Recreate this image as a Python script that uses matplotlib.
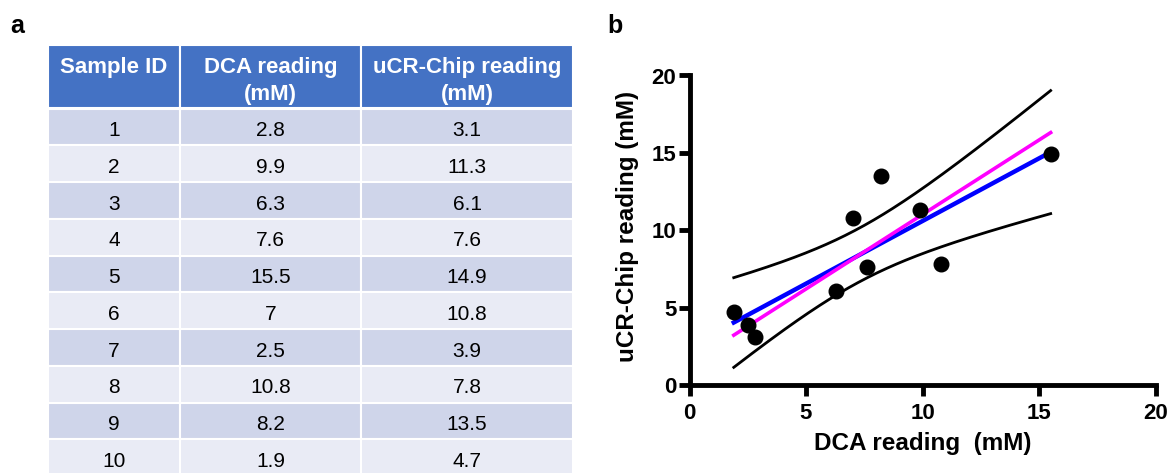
import numpy as np
import matplotlib.pyplot as plt
from matplotlib.patches import Rectangle

plt.rcParams['font.family'] = ['Liberation Sans', 'DejaVu Sans']

# table data
sample_id = [1, 2, 3, 4, 5, 6, 7, 8, 9, 10]
dca = [2.8, 9.9, 6.3, 7.6, 15.5, 7, 2.5, 10.8, 8.2, 1.9]
ucr = [3.1, 11.3, 6.1, 7.6, 14.9, 10.8, 3.9, 7.8, 13.5, 4.7]
headers = [["Sample ID"], ["DCA reading", "(mM)"], ["uCR-Chip reading", "(mM)"]]

head_col = '#4472C4'
row_cols = ['#CFD5EA', '#E9EBF5']

fig = plt.figure(figsize=(11.71, 4.73), dpi=100)

# ---- panel a: table drawn in pixel coords
tab = fig.add_axes([0, 0, 1, 1])
tab.set_xlim(0, 1171)
tab.set_ylim(473, 0)
tab.axis('off')

col_edges = [48, 180, 361, 573]
head_top, head_bot = 45, 108.5
pitch = 36.75

for c in range(3):
    x0, x1 = col_edges[c], col_edges[c + 1]
    tab.add_patch(Rectangle((x0, head_top), x1 - x0, head_bot - head_top,
                            facecolor=head_col, edgecolor='white', lw=1.5))
    for k, line in enumerate(headers[c]):
        tab.text((x0 + x1) / 2, 73 + 27 * k, line, color='white', fontsize=16,
                 fontweight='bold', ha='center', va='baseline')

cells = [sample_id, dca, ucr]
for i in range(len(sample_id)):
    top = head_bot + i * pitch
    for c in range(3):
        x0, x1 = col_edges[c], col_edges[c + 1]
        tab.add_patch(Rectangle((x0, top), x1 - x0, pitch,
                                facecolor=row_cols[i % 2], edgecolor='white', lw=1.5))
        tab.text((x0 + x1) / 2, top + 27.5, str(cells[c][i]), fontsize=15,
                 ha='center', va='baseline', color='black')

tab.text(10, 33, 'a', fontsize=18, fontweight='bold', va='baseline')
tab.text(607, 33, 'b', fontsize=18, fontweight='bold', va='baseline')

# ---- panel b: scatter with fits
x = np.array(dca)
y = np.array(ucr)
n = len(x)
mx, my = x.mean(), y.mean()
sxx = ((x - mx) ** 2).sum()
syy = ((y - my) ** 2).sum()
sxy = ((x - mx) * (y - my)).sum()

# linear regression + 95% CI band
slope = sxy / sxx
icpt = my - slope * mx
s = np.sqrt((syy - sxy ** 2 / sxx) / (n - 2))
t_crit = 2.306  # t(0.975, df=8)

# Deming regression (lambda = 1)
d_slope = (syy - sxx + np.sqrt((syy - sxx) ** 2 + 4 * sxy ** 2)) / (2 * sxy)
d_icpt = my - d_slope * mx

xs = np.linspace(x.min(), x.max(), 200)
fit = icpt + slope * xs
half = t_crit * s * np.sqrt(1 / n + (xs - mx) ** 2 / sxx)

ax = fig.add_axes([689.5 / 1171, (473 - 385) / 473, 466 / 1171, 309.5 / 473])
ax.plot(xs, fit + half, color='black', lw=2)
ax.plot(xs, fit - half, color='black', lw=2)
ax.plot(xs, fit, color='#0000FF', lw=3.2)
ax.plot(xs, d_icpt + d_slope * xs, color='#FF00FF', lw=2.6)
ax.plot(x, y, 'o', color='black', markersize=10.5, zorder=5)

ax.set_xlim(0, 20)
ax.set_ylim(0, 20)
ax.set_xticks([0, 5, 10, 15, 20])
ax.set_yticks([0, 5, 10, 15, 20])
for side in ['top', 'right']:
    ax.spines[side].set_visible(False)
for side in ['left', 'bottom']:
    ax.spines[side].set_linewidth(3.5)
ax.tick_params(direction='out', length=8, width=3.5, labelsize=16)
ax.tick_params(axis='x', pad=5)
ax.tick_params(axis='y', pad=1.5)
for lab in ax.get_xticklabels() + ax.get_yticklabels():
    lab.set_fontweight('bold')

ax.set_xlabel('DCA reading  (mM)', fontsize=17.5, fontweight='bold')
ax.set_ylabel('uCR-Chip reading (mM)', fontsize=17.5, fontweight='bold')
ax.xaxis.label.set_va('center')
ax.yaxis.label.set_va('center')
ax.xaxis.set_label_coords(0.501, -0.19)
ax.yaxis.set_label_coords(-0.134, 0.512)

fig.savefig('out.png', dpi=100)
